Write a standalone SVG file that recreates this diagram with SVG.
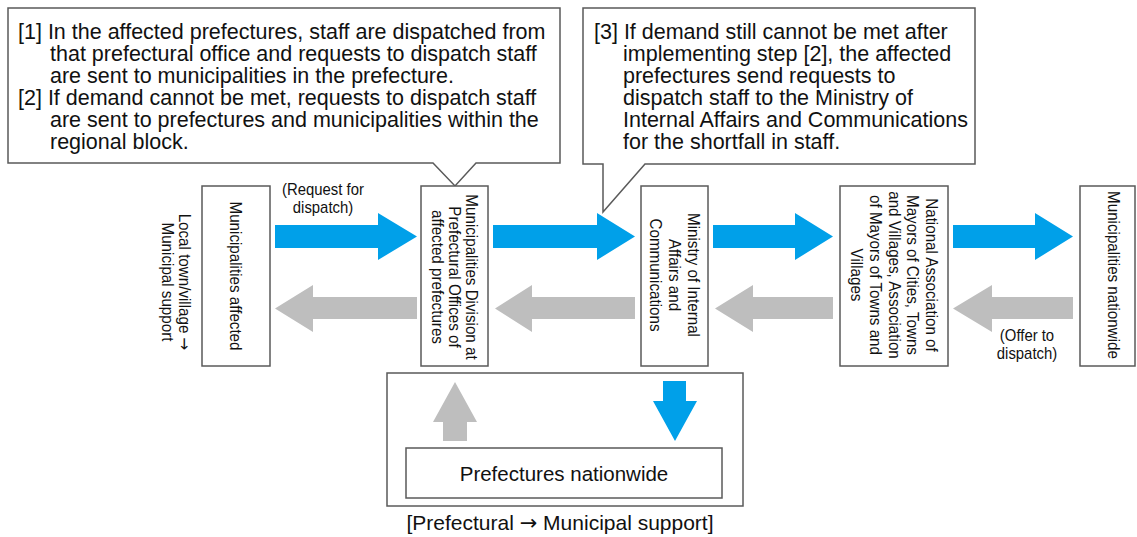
<svg xmlns="http://www.w3.org/2000/svg" width="1137" height="537" viewBox="0 0 1137 537">
<style>
.box{fill:#fff;stroke:#5a5a5a;stroke-width:1.5}
.ct{font-family:"Liberation Sans",Arial,sans-serif;font-size:21.5px;fill:#111}
.vt{font-family:"Liberation Sans",Arial,sans-serif;font-size:16.5px;fill:#111;text-anchor:middle}
.lb{font-family:"Liberation Sans",Arial,sans-serif;font-size:16px;fill:#111;text-anchor:middle}
.ht{font-family:"Liberation Sans",Arial,sans-serif;font-size:20.5px;fill:#111;text-anchor:middle}
.cap{font-family:"Liberation Sans",Arial,sans-serif;font-size:21px;fill:#111;text-anchor:middle}
.arr{font-family:"DejaVu Sans",sans-serif;font-weight:normal}
.blue{fill:#00a0e9}
.gray{fill:#bebebe}
</style>
<rect width="1137" height="537" fill="#fff"/>
<g id="callout1">
<path class="box" d="M8,8 H560 V163 H476 L455,186 L433,163 H8 Z"/>
<text class="ct"><tspan x="18" y="39">[1] In the affected prefectures, staff are dispatched from</tspan><tspan x="50" y="61">that prefectural office and requests to dispatch staff</tspan><tspan x="50" y="83">are sent to municipalities in the prefecture.</tspan><tspan x="18" y="105">[2] If demand cannot be met, requests to dispatch staff</tspan><tspan x="50" y="127">are sent to prefectures and municipalities within the</tspan><tspan x="50" y="149">regional block.</tspan></text>
</g>
<g id="callout2">
<path class="box" d="M583,8 H975 V164 H645 L603,212 V164 H583 Z"/>
<text class="ct"><tspan x="594" y="39">[3] If demand still cannot be met after</tspan><tspan x="623" y="61">implementing step [2], the affected</tspan><tspan x="623" y="83">prefectures send requests to</tspan><tspan x="623" y="105">dispatch staff to the Ministry of</tspan><tspan x="623" y="127">Internal Affairs and Communications</tspan><tspan x="623" y="149">for the shortfall in staff.</tspan></text>
</g>
<g id="label-local">
<text class="vt" transform="translate(176.5,282) rotate(90) scale(0.92,1)"><tspan x="0" y="-2.8">Local town/village <tspan class="arr">→</tspan></tspan><tspan x="0" y="14.2">Municipal support</tspan></text>
</g>
<g id="node-affected">
<rect class="box" x="202" y="186" width="68" height="180"/>
<text class="vt" transform="translate(236,276) rotate(90) scale(0.92,1)"><tspan x="0" y="5.8">Municipalities affected</tspan></text>
</g>
<g id="node-prefoffice">
<rect class="box" x="421" y="186" width="67" height="180"/>
<text class="vt" transform="translate(455,277) rotate(90) scale(0.92,1)"><tspan x="0" y="-11.2">Municipalities Division at</tspan><tspan x="0" y="5.8">Prefectural Offices of</tspan><tspan x="0" y="22.8">affected prefectures</tspan></text>
</g>
<g id="node-ministry">
<rect class="box" x="641" y="186" width="67" height="180"/>
<text class="vt" transform="translate(674.5,275) rotate(90) scale(0.92,1)"><tspan x="0" y="-13.2">Ministry of Internal</tspan><tspan x="0" y="5.8">Affairs and</tspan><tspan x="0" y="24.8">Communications</tspan></text>
</g>
<g id="node-association">
<rect class="box" x="840" y="186" width="108" height="180"/>
<text class="vt" transform="translate(894.5,275) rotate(90) scale(0.92,1)"><tspan x="0" y="-31.7">National Association of</tspan><tspan x="0" y="-12.95">Mayors of Cities, Towns</tspan><tspan x="0" y="5.8">and Villages, Association</tspan><tspan x="0" y="24.55">of Mayors of Towns and</tspan><tspan x="0" y="43.3">Villages</tspan></text>
</g>
<g id="node-municipalities-nationwide">
<rect class="box" x="1080" y="186" width="55" height="180"/>
<text class="vt" transform="translate(1114,275) rotate(90) scale(0.92,1)"><tspan x="0" y="5.8">Municipalities nationwide</tspan></text>
</g>
<g id="group-prefectural">
<rect class="box" x="387" y="373" width="356" height="133"/>
</g>
<g id="node-prefectures-nationwide">
<rect class="box" x="406" y="448" width="316" height="50"/>
<text class="ht" x="564" y="481">Prefectures nationwide</text>
</g>
<g id="connectors">
<polygon class="blue" points="275,225 378,225 378,213 417,236.5 378,260 378,248 275,248"/>
<polygon class="blue" points="493,225 597,225 597,213 635,236.5 597,260 597,248 493,248"/>
<polygon class="blue" points="713,225 795,225 795,213 833,236.5 795,260 795,248 713,248"/>
<polygon class="blue" points="953,225 1035,225 1035,213 1073,236.5 1035,260 1035,248 953,248"/>
<polygon class="gray" points="417,297 313,297 313,285 275,308.5 313,332 313,319 417,319"/>
<polygon class="gray" points="635,297 532,297 532,285 495,308.5 532,332 532,319 635,319"/>
<polygon class="gray" points="833,297 753,297 753,285 715,308.5 753,332 753,319 833,319"/>
<polygon class="gray" points="1073,297 992,297 992,285 953,308.5 992,332 992,319 1073,319"/>
<polygon class="gray" points="443,441 443,422 433,422 455,382 477,422 467,422 467,441"/>
<polygon class="blue" points="663,381 686,381 686,401 697,401 675,441 653,401 663,401"/>
</g>
<g id="labels">
<text class="lb" transform="translate(323,0) scale(0.93,1)"><tspan x="0" y="195">(Request for</tspan><tspan x="0" y="213">dispatch)</tspan></text>
<text class="lb" transform="translate(1027,0) scale(0.93,1)"><tspan x="0" y="341">(Offer to</tspan><tspan x="0" y="359">dispatch)</tspan></text>
<text class="cap" x="560" y="530">[Prefectural <tspan class="arr">→</tspan> Municipal support]</text>
</g>
</svg>
